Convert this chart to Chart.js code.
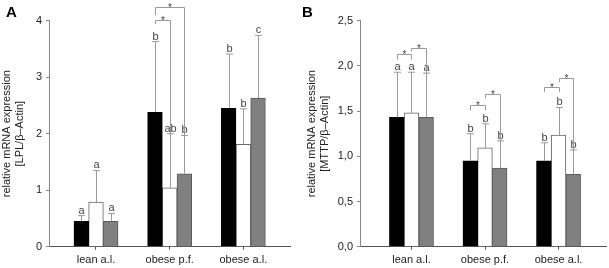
<!DOCTYPE html>
<html>
<head>
<meta charset="utf-8">
<script src="https://cdn.jsdelivr.net/npm/chart.js@4/dist/chart.umd.min.js"></script>
<style>
  html, body { margin: 0; padding: 0; background: #fff; }
  #wrap { display: flex; width: 609px; height: 268px; }
  canvas { display: block; }
</style>
</head>
<body>
<div id="wrap">
  <canvas id="chartA" width="300" height="268"></canvas>
  <canvas id="chartB" width="309" height="268"></canvas>
</div>
<script>
// categories and series (black / white / gray bars)
const categories = ["lean a.l.", "obese p.f.", "obese a.l."];

// Panel A: LPL
const lplBlack = [0.45, 2.38, 2.45];
const lplWhite = [0.79, 1.04, 1.81];
const lplGray = [0.45, 1.29, 2.63];
// upper end of error bars
const lplBlackErr = [0.55, 3.63, 3.41];
const lplWhiteErr = [1.35, 2.0, 2.44];
const lplGrayErr = [0.59, 1.97, 3.74];
const lplBlackLetters = ["a", "b", "b"];
const lplWhiteLetters = ["a", "ab", "b"];
const lplGrayLetters = ["a", "b", "c"];
// [group, fromSeries, toSeries, lineY, leftLegEnd, rightLegEnd]
const lplBrackets = [
  [1, 0, 1, 4.01, 3.94, 2.0],
  [1, 0, 2, 4.24, 4.1, 1.97],
];
const lplTicks = [0, 1, 2, 3, 4];

// Panel B: MTTP
const mttpBlack = [1.43, 0.95, 0.95];
const mttpWhite = [1.48, 1.095, 1.235];
const mttpGray = [1.43, 0.87, 0.8];
const mttpBlackErr = [1.93, 1.25, 1.15];
const mttpWhiteErr = [1.93, 1.36, 1.54];
const mttpGrayErr = [1.92, 1.17, 1.07];
const mttpBlackLetters = ["a", "b", "b"];
const mttpWhiteLetters = ["a", "b", "b"];
const mttpGrayLetters = ["a", "b", "b"];
const mttpBrackets = [
  [0, 0, 1, 2.13, 2.07, 2.07],
  [0, 1, 2, 2.2, 2.16, 1.92],
  [1, 0, 1, 1.57, 1.51, 1.51],
  [1, 1, 2, 1.69, 1.64, 1.17],
  [2, 0, 1, 1.77, 1.71, 1.71],
  [2, 1, 2, 1.87, 1.82, 1.07],
];
const mttpTicks = [0, 0.5, 1.0, 1.5, 2.0, 2.5];

const FONT = 'Arial, "Liberation Sans", sans-serif';
const LINE_GRAY = "#999";

// draws error bars, letters, significance brackets and the panel letter
const annotations = {
  id: "annotations",
  afterDatasetsDraw(chart, args, opts) {
    const ctx = chart.ctx;
    const y = chart.scales.y;
    ctx.save();
    ctx.lineWidth = 1;
    ctx.strokeStyle = LINE_GRAY;
    ctx.fillStyle = "#444";
    ctx.font = "11px " + FONT;
    ctx.textAlign = "center";
    ctx.textBaseline = "alphabetic";

    opts.errors.forEach((errs, i) => {
      const meta = chart.getDatasetMeta(i);
      meta.data.forEach((bar, j) => {
        const x = Math.round(bar.x) + 0.5;
        const top = y.getPixelForValue(errs[j]);
        ctx.beginPath();
        ctx.moveTo(x, bar.y);
        ctx.lineTo(x, top);
        ctx.moveTo(x - 3.5, top);
        ctx.lineTo(x + 3.5, top);
        ctx.stroke();
        ctx.fillText(opts.letters[i][j], x, top - 2);
      });
    });

    ctx.font = "10px " + FONT;
    opts.brackets.forEach(([g, a, b, ly, l1, l2]) => {
      const xa = Math.round(chart.getDatasetMeta(a).data[g].x) + 0.5;
      const xb = Math.round(chart.getDatasetMeta(b).data[g].x) + 0.5;
      const py = Math.round(y.getPixelForValue(ly)) + 0.5;
      ctx.beginPath();
      ctx.moveTo(xa, y.getPixelForValue(l1));
      ctx.lineTo(xa, py);
      ctx.lineTo(xb, py);
      ctx.lineTo(xb, y.getPixelForValue(l2));
      ctx.stroke();
      ctx.fillText("*", (xa + xb) / 2, py + 3);
    });

    ctx.fillStyle = "#000";
    ctx.font = "bold 15px " + FONT;
    ctx.textAlign = "left";
    ctx.fillText(opts.panel, opts.panelX, 17);
    ctx.restore();
  },
};

function makeChart(canvasId, cfg) {
  const series = [cfg.black, cfg.white, cfg.gray];
  const fills = ["#000000", "#ffffff", "#808080"];
  const borders = ["#000000", "#666666", "#5a5a5a"];
  const ctx = document.getElementById(canvasId).getContext("2d");
  return new Chart(ctx, {
    type: "bar",
    data: {
      datasets: series.map((vals, i) => ({
        data: vals.map((v, k) => ({ x: k + 1, y: v })),
        backgroundColor: fills[i],
        borderColor: borders[i],
        borderWidth: 1,
        barThickness: 14.7,
      })),
    },
    options: {
      responsive: false,
      animation: false,
      layout: { padding: { top: 20.7, right: cfg.padRight, bottom: 0, left: 0 } },
      plugins: {
        legend: { display: false },
        tooltip: { enabled: false },
        annotations: {
          errors: cfg.errors,
          letters: cfg.letters,
          brackets: cfg.brackets,
          panel: cfg.panel,
          panelX: cfg.panelX,
        },
      },
      scales: {
        x: {
          type: "linear",
          offset: false,
          min: cfg.xMin,
          max: cfg.xMax,
          afterBuildTicks: (s) => {
            s.ticks = categories.map((c, i) => ({ value: i + 1 }));
          },
          afterFit: (s) => {
            s.height = 21.3;
          },
          grid: {
            offset: false,
            drawOnChartArea: false,
            drawTicks: true,
            tickLength: 3,
            color: "#555",
          },
          border: { display: true, color: "#555" },
          ticks: {
            padding: 4,
            color: "#222",
            font: { family: FONT, size: 11 },
            maxRotation: 0,
            autoSkip: false,
            callback: (v) => categories[v - 1],
          },
        },
        y: {
          min: cfg.ticks[0],
          max: cfg.ticks[cfg.ticks.length - 1],
          afterBuildTicks: (s) => {
            s.ticks = cfg.ticks.map((v) => ({ value: v }));
          },
          afterFit: (s) => {
            s.width = cfg.axisWidth;
          },
          grid: {
            drawOnChartArea: false,
            drawTicks: true,
            tickLength: 3,
            color: "#888",
          },
          border: { display: true, color: "#888" },
          ticks: {
            padding: 4,
            color: "#222",
            font: { family: FONT, size: 11 },
            callback: cfg.tickFormat,
          },
          title: {
            display: true,
            text: cfg.title,
            color: "#222",
            font: { family: FONT, size: 11, lineHeight: 1.2 },
            padding: { top: cfg.titlePad, bottom: 0 },
          },
        },
      },
    },
    plugins: [annotations],
  });
}

makeChart("chartA", {
  black: lplBlack,
  white: lplWhite,
  gray: lplGray,
  errors: [lplBlackErr, lplWhiteErr, lplGrayErr],
  letters: [lplBlackLetters, lplWhiteLetters, lplGrayLetters],
  brackets: lplBrackets,
  ticks: lplTicks,
  tickFormat: (v) => String(v),
  title: ["relative mRNA expression", "[LPL/\u03b2\u2013Actin]"],
  titlePad: 0.5,
  axisWidth: 49,
  xMin: 0.362,
  xMax: 3.643,
  padRight: 9.3,
  panel: "A",
  panelX: 6,
});

makeChart("chartB", {
  black: mttpBlack,
  white: mttpWhite,
  gray: mttpGray,
  errors: [mttpBlackErr, mttpWhiteErr, mttpGrayErr],
  letters: [mttpBlackLetters, mttpWhiteLetters, mttpGrayLetters],
  brackets: mttpBrackets,
  ticks: mttpTicks,
  tickFormat: (v) => v.toFixed(1).replace(".", ","),
  title: ["relative mRNA expression", "[MTTP/\u03b2\u2013Actin]"],
  titlePad: 5,
  axisWidth: 60,
  xMin: 0.3,
  xMax: 3.655,
  padRight: 2.3,
  panel: "B",
  panelX: 2,
});
</script>
</body>
</html>
